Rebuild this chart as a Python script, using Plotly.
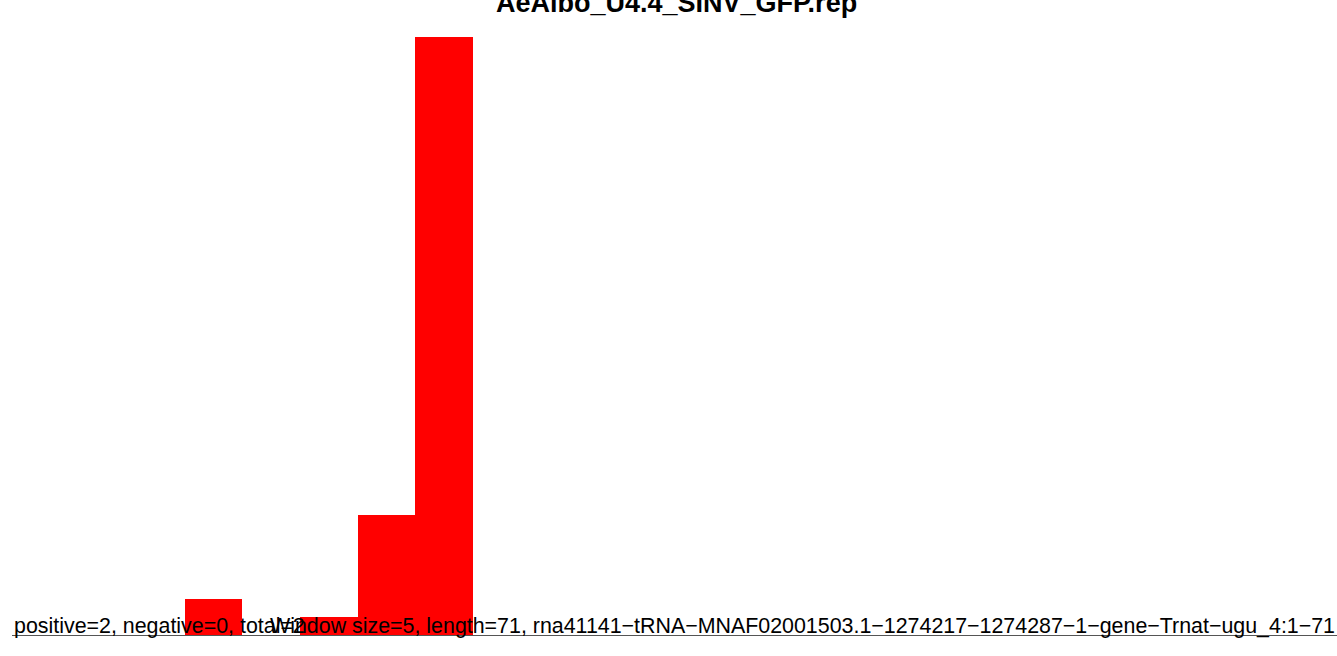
import plotly.graph_objects as go

# Binned coverage profile (23 bins, percent of max)
bins = list(range(23))
values = [0, 0, 0, 6, 0, 3, 20, 100, 0, 0, 0, 0, 0, 0, 0, 0, 0, 0, 0, 0, 0, 0, 0]

title_text = "AeAlbo_U4.4_SINV_GFP.rep"
counts_text = "positive=2, negative=0, total=2"
info_text = ("Window size=5, length=71, rna41141\u2212tRNA\u2212MNAF02001503.1\u2212"
             "1274217\u22121274287\u22121\u2212gene\u2212Trnat\u2212ugu_4:1\u221271")

fig = go.Figure(
    go.Bar(x=bins, y=values, marker=dict(color="#FF0000", line=dict(width=0)), width=1.0)
)

W, H = 1337, 656
ml, mr, mt, mb = 12, 0, 37, 21
ph = H - mt - mb

def ypix(py):
    # convert a pixel row to paper coordinates
    return (H - mb - py) / ph

fig.update_layout(
    width=W, height=H,
    margin=dict(l=ml, r=mr, t=mt, b=mb, pad=0),
    paper_bgcolor="white", plot_bgcolor="white",
    bargap=0, showlegend=False,
    font=dict(family="Liberation Sans, Arial, sans-serif", color="black"),
    xaxis=dict(range=[-0.5, 22.5], showgrid=False, zeroline=False, showticklabels=False,
               ticks="", showline=True, linecolor="#555555", linewidth=1,
               layer="below traces", fixedrange=True),
    yaxis=dict(range=[0, 100], showgrid=False, zeroline=False, showticklabels=False,
               ticks="", showline=False, fixedrange=True),
    annotations=[
        dict(text="<b>" + title_text + "</b>", xref="paper", yref="paper",
             x=(676 - ml) / (W - ml), y=ypix(3), xanchor="center", yanchor="middle",
             showarrow=False, font=dict(size=27, color="black")),
        dict(text=counts_text, xref="paper", yref="paper",
             x=0, y=ypix(626), xanchor="left", yanchor="middle",
             showarrow=False, font=dict(size=21.4, color="black")),
        dict(text=info_text, xref="paper", yref="paper",
             x=1, y=ypix(626), xanchor="right", yanchor="middle",
             showarrow=False, font=dict(size=21.4, color="black")),
    ],
)

fig.write_html("out.html", config={"displayModeBar": False})
